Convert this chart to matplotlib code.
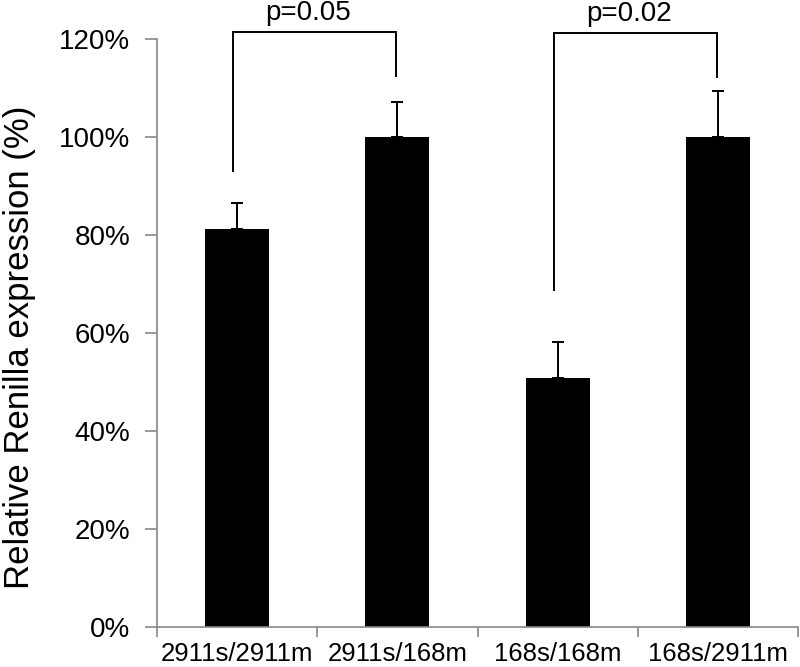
import numpy as np
import matplotlib
matplotlib.use("Agg")
import matplotlib.pyplot as plt
from matplotlib.ticker import FuncFormatter, FixedLocator

plt.rcParams["font.family"] = ["Liberation Sans", "DejaVu Sans"]

categories = ["2911s/2911m", "2911s/168m", "168s/168m", "168s/2911m"]
values = [0.812, 1.00, 0.508, 1.00]
errors = [0.053, 0.071, 0.074, 0.094]

# significance brackets: (left bar, right bar, left leg bottom, right leg bottom, top, label)
brackets = [
    (0, 1, 0.93, 1.124, 1.214, "p=0.05"),
    (2, 3, 0.688, 1.122, 1.212, "p=0.02"),
]

axis_grey = "#868686"

fig = plt.figure(figsize=(8, 6.67), dpi=100)
ax = fig.add_axes([0.196, 0.06, 0.802, 0.8815])

x = np.arange(len(categories))
ax.bar(x, values, width=0.4, color="black", zorder=2)
ax.errorbar(x, values, yerr=[np.zeros(len(errors)), errors], fmt="none",
            ecolor="black", elinewidth=1.4, capsize=4.5, capthick=1.4, zorder=3)

for i, j, lo_left, lo_right, top, label in brackets:
    xl, xr = x[i] - 0.025, x[j] - 0.01
    ax.plot([xl, xl, xr, xr], [lo_left, top, top, lo_right], color="black",
            lw=1.4, clip_on=False, solid_joinstyle="miter")
    ax.text((xl + xr) / 2 - 0.04, top + 0.024, label, ha="center", va="baseline",
            fontsize=20, clip_on=False)

ax.set_xlim(-0.5, len(categories) - 0.5)
ax.set_ylim(0, 1.2)
ax.set_yticks(np.arange(0, 1.21, 0.2))
ax.yaxis.set_major_formatter(FuncFormatter(lambda v, _: f"{v * 100:.0f}%"))
ax.set_xticks(x)
ax.set_xticklabels(categories, fontsize=18.5)
ax.xaxis.set_minor_locator(FixedLocator(np.arange(-0.5, len(categories), 1.0)))
ax.tick_params(axis="x", which="major", length=0, pad=11)
ax.tick_params(axis="x", which="minor", length=7, width=1.2, color=axis_grey)
ax.tick_params(axis="y", length=9, width=1.2, color=axis_grey, labelsize=20, pad=10)
ax.set_ylabel("Relative Renilla expression (%)", fontsize=25)
ax.yaxis.set_label_coords(-0.188, 0.476)

for side in ("top", "right"):
    ax.spines[side].set_visible(False)
for side in ("left", "bottom"):
    ax.spines[side].set_color(axis_grey)
    ax.spines[side].set_linewidth(1.2)

fig.savefig("out.png", dpi=100)
